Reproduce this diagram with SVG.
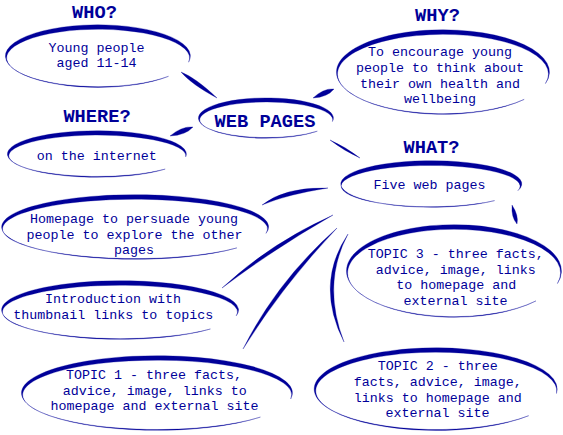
<svg xmlns="http://www.w3.org/2000/svg" width="563" height="435" viewBox="0 0 563 435">
<style>
.bg{fill:#ffffff}
.e{fill:#000099;stroke:#000099;stroke-width:0.3}
.c{fill:#000099;stroke:#000099;stroke-width:0.3}
.t{font-family:"Liberation Mono","Courier New",monospace;font-size:13.33px;fill:#000099;text-anchor:middle}
.h{font-family:"Liberation Mono","Courier New",monospace;font-size:18.67px;font-weight:bold;fill:#000099;text-anchor:middle}
</style>
<rect class="bg" x="0" y="0" width="563" height="435"/>

<g id="connectors">
  <path class="c" d="M181,72 Q191.3,84.3 217,98 Q195.9,77.9 181,72 Z"/>
  <path class="c" d="M170,136 Q185.6,135.3 193,127 Q182,125.9 170,136 Z"/>
  <path class="c" d="M313,98 Q327.6,97.2 334,89 Q323.6,88 313,98 Z"/>
  <path class="c" d="M330,140 Q343.9,150.8 360,158 Q346.1,147.2 330,140 Z"/>
  <path class="c" d="M512,205 Q511.1,217.4 517,224 Q518.9,215.4 512,205 Z"/>
  <path class="c" d="M328,188 Q287,194.4 262,205 Q285,186.6 328,188 Z"/>
  <path class="c" d="M333,215 Q273.9,248.9 222,288 Q270.1,243.1 333,215 Z"/>
  <path class="c" d="M337,228 Q282.8,285.2 243,349 Q277.2,280.8 337,228 Z"/>
  <path class="c" d="M348,234 Q321.5,284 344,342 Q314.5,284 348,234 Z"/>
</g>

<g id="web-pages">
  <path class="e" d="M332.4,121.6 A67.5,20.2 0 1 0 317.3,131.2 A66.5,17.8 0 1 1 332.4,121.6 Z"/>
  <text class="h" x="265" y="127">WEB PAGES</text>
</g>

<g id="who">
  <text class="h" x="94.5" y="18">WHO?</text>
  <path class="e" d="M188.6,62.2 A92.5,31.3 0 1 0 168.5,76.3 A91.5,28.7 0 1 1 188.6,62.2 Z"/>
  <text class="t" x="96.5" y="52">Young people</text>
  <text class="t" x="96.5" y="67">aged 11-14</text>
</g>

<g id="where">
  <text class="h" x="97" y="122">WHERE?</text>
  <path class="e" d="M185.7,156.9 A89.5,23.3 0 1 0 165.2,169.1 A88.5,20.7 0 1 1 185.7,156.9 Z"/>
  <text class="t" x="96.7" y="159.5">on the internet</text>
</g>

<g id="why">
  <text class="h" x="437.5" y="21">WHY?</text>
  <path class="e" d="M545.4,83.6 A106.5,42.3 0 1 0 524.2,99.4 A105.5,39.7 0 1 1 545.4,83.6 Z"/>
  <text class="t" x="440" y="56">To encourage young</text>
  <text class="t" x="440" y="72">people to think about</text>
  <text class="t" x="440" y="87.5">their own health and</text>
  <text class="t" x="440" y="103">wellbeing</text>
</g>

<g id="what">
  <text class="h" x="431.5" y="153">WHAT?</text>
  <path class="e" d="M517.9,190.7 A90.5,23.3 0 1 0 494.6,200.6 A89.5,20.7 0 1 1 517.9,190.7 Z"/>
  <text class="t" x="429.5" y="188.5">Five web pages</text>
</g>

<g id="homepage">
  <path class="e" d="M266,233.4 A133.5,32.3 0 1 0 236.9,247.9 A132.5,29.7 0 1 1 266,233.4 Z"/>
  <text class="t" x="134" y="223">Homepage to persuade young</text>
  <text class="t" x="134.5" y="238.5">people to explore the other</text>
  <text class="t" x="134" y="254">pages</text>
</g>

<g id="introduction">
  <path class="e" d="M236.2,315.9 A118.5,29.3 0 1 0 210.4,329 A117.5,26.7 0 1 1 236.2,315.9 Z"/>
  <text class="t" x="113" y="303">Introduction with</text>
  <text class="t" x="113.3" y="318.5">thumbnail links to topics</text>
</g>

<g id="topic1">
  <path class="e" d="M290.7,399 A135.5,37.3 0 1 0 260.4,417.1 A134.5,34.7 0 1 1 290.7,399 Z"/>
  <text class="t" x="154" y="379">TOPIC 1 - three facts,</text>
  <text class="t" x="154.7" y="394.5">advice, image, links to</text>
  <text class="t" x="154.5" y="410">homepage and external site</text>
</g>

<g id="topic3">
  <path class="e" d="M557.4,283.6 A107.5,46.3 0 1 0 536,300.9 A106.5,43.7 0 1 1 557.4,283.6 Z"/>
  <text class="t" x="455.8" y="258">TOPIC 3 - three facts,</text>
  <text class="t" x="455.7" y="273.5">advice, image, links</text>
  <text class="t" x="456.2" y="289">to homepage and</text>
  <text class="t" x="455.5" y="304.5">external site</text>
</g>

<g id="topic2">
  <path class="e" d="M556.5,393.5 A121.5,41.3 0 1 0 528.7,415.7 A120.5,38.7 0 1 1 556.5,393.5 Z"/>
  <text class="t" x="437.8" y="370">TOPIC 2 - three</text>
  <text class="t" x="437.7" y="386">facts, advice, image,</text>
  <text class="t" x="437.7" y="401.5">links to homepage and</text>
  <text class="t" x="437.5" y="417">external site</text>
</g>
</svg>
